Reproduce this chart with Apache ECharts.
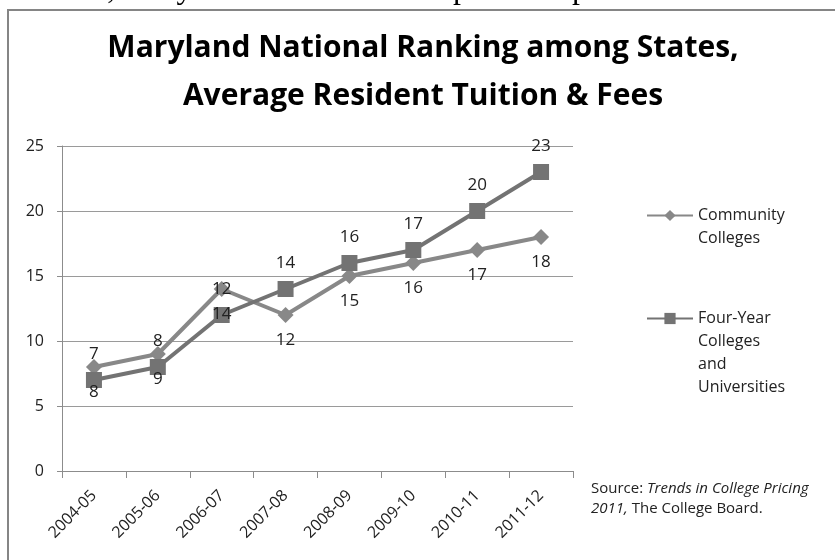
<!DOCTYPE html>
<html>
<head>
<meta charset="utf-8">
<script src="https://cdn.jsdelivr.net/npm/echarts@6/dist/echarts.min.js"></script>
<style>
  html, body { margin: 0; padding: 0; background: #fff; }
  #main { width: 835px; height: 560px; }
</style>
</head>
<body>
<div id="main"></div>
<script>
// chart data
var years = ['2004-05', '2005-06', '2006-07', '2007-08', '2008-09', '2009-10', '2010-11', '2011-12'];
var communityColleges = [8, 9, 14, 12, 15, 16, 17, 18];
var fourYear = [7, 8, 12, 14, 16, 17, 20, 23];
var yTicks = [0, 5, 10, 15, 20, 25];

var font = '"Open Sans", "Noto Sans", sans-serif';
var ccName = 'Community\nColleges';
var fyName = 'Four-Year\nColleges\nand\nUniversities';

var myChart = echarts.init(document.getElementById('main'));

// legend icon sits on the first line of a wrapped name: pad with leading blank lines
function legendFor(name, top) {
  var lines = name.split('\n').length;
  return {
    data: [name],
    orient: 'vertical',
    left: 646,
    top: top,
    padding: 0,
    itemWidth: 46,
    itemHeight: 14,
    itemGap: 0,
    selectedMode: false,
    formatter: function (n) {
      return new Array(lines).join('\n') + n;
    },
    textStyle: { fontFamily: font, fontSize: 16, color: '#222', lineHeight: 23 }
  };
}

myChart.setOption({
  animation: false,
  backgroundColor: '#fff',
  graphic: [
    // frame of the chart object
    { type: 'rect', shape: { x: 8, y: 10, width: 900, height: 600 },
      style: { fill: 'none', stroke: '#858585', lineWidth: 2 }, silent: true },
    // clipped line of body text above the chart
    { type: 'text', style: { text: 'Nevertheless, Maryland continues to improve its position relative to other states',
        x: -58, y: -10, verticalAlign: 'middle',
        font: '32px "Liberation Serif", "DejaVu Serif", serif', fill: '#000' } },
    { type: 'text', style: { text: 'Maryland National Ranking among States,\nAverage Resident Tuition & Fees',
        x: 423, y: 24, align: 'center', lineHeight: 48,
        font: 'bold 30px ' + font, fill: '#000' } },
    { type: 'text', left: 591, top: 481, style: {
        text: '{n|Source: }{i|Trends in College Pricing}\n{i|2011,}{n| The College Board.}',
        rich: {
          n: { fontFamily: font, fontSize: 15, lineHeight: 20, fill: '#222' },
          i: { fontFamily: font, fontSize: 15, lineHeight: 20, fontStyle: 'italic', fill: '#222' }
        } } }
  ],
  legend: [legendFor(ccName, 181), legendFor(fyName, 238)],
  grid: { left: 62, right: 262, top: 146, bottom: 89 },
  xAxis: {
    type: 'category',
    data: years,
    boundaryGap: true,
    axisLine: { lineStyle: { color: '#8c8c8c', width: 1 } },
    axisTick: { show: true, interval: 0, length: 7, lineStyle: { color: '#8c8c8c' } },
    axisLabel: { rotate: 45, interval: 0, margin: 22, fontFamily: font, fontSize: 16, color: '#222' }
  },
  yAxis: {
    type: 'value',
    min: yTicks[0],
    max: yTicks[yTicks.length - 1],
    interval: yTicks[1] - yTicks[0],
    axisLine: { show: true, lineStyle: { color: '#8c8c8c' } },
    axisTick: { show: true, length: 5, lineStyle: { color: '#8c8c8c' } },
    splitLine: { lineStyle: { color: '#9a9a9a' } },
    axisLabel: { margin: 18, fontFamily: font, fontSize: 16, color: '#222' }
  },
  series: [
    {
      name: ccName, type: 'line', data: communityColleges,
      symbol: 'diamond', symbolSize: 16,
      itemStyle: { color: '#888888' },
      lineStyle: { width: 4, color: '#888888' },
      label: { show: true, position: 'bottom', distance: 9, fontFamily: font, fontSize: 17, color: '#222' }
    },
    {
      name: fyName, type: 'line', data: fourYear,
      symbol: 'rect', symbolSize: 16,
      itemStyle: { color: '#737373' },
      lineStyle: { width: 4, color: '#737373' },
      label: { show: true, position: 'top', distance: 9, fontFamily: font, fontSize: 17, color: '#222' }
    }
  ]
});
</script>
</body>
</html>
